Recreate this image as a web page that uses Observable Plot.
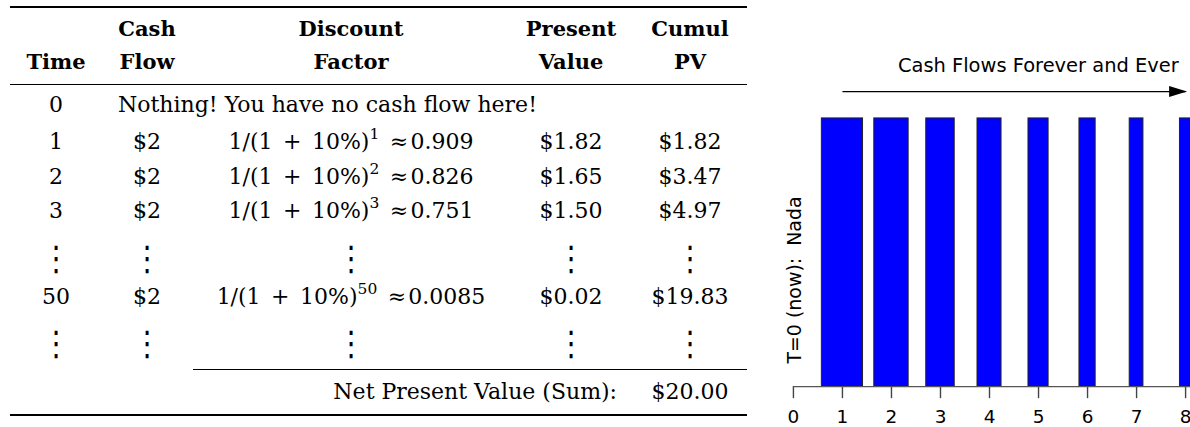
<!DOCTYPE html>
<html>
<head>
<meta charset="utf-8">
<script src="https://cdn.jsdelivr.net/npm/d3@7"></script>
<script src="https://cdn.jsdelivr.net/npm/@observablehq/plot@0.6"></script>
<style>
  html, body { margin: 0; padding: 0; background: #fff; }
  body { width: 1190px; height: 427px; overflow: hidden; position: relative; }
  #table { position: absolute; left: 0; top: 0; width: 760px; height: 427px;
           font-family: "DejaVu Serif", serif; font-size: 22px; color: #000; }
  .row { position: absolute; left: 10px; width: 738px; height: 24px; line-height: 24px;
         display: flex; white-space: nowrap; }
  .c { flex: none; text-align: center; box-sizing: border-box; }
  .hd { font-weight: bold; font-size: 21px; }
  .df { word-spacing: 3.5px; }
  .rule { position: absolute; background: #000; }
  .sup { font-size: 15.5px; position: relative; top: -10.5px; line-height: 0; }
  .vd { display: inline-block; font-family: "DejaVu Sans", sans-serif; font-size: 28px; line-height: 24px;
        transform: scaleY(1.22); }
  #chart { position: absolute; left: 760px; top: 0; }
</style>
</head>
<body>
<div id="table"></div>
<div id="chart"></div>
<script>
// ---------- table data ----------
const headerLine1 = ["", "Cash", "Discount", "Present", "Cumul"];
const headerLine2 = ["Time", "Flow", "Factor", "Value", "PV"];
const firstTime = "0";
const firstNote = "Nothing! You have no cash flow here!";
const rowTimes = ["1", "2", "3", "50"];
const rowCashFlows = ["$2", "$2", "$2", "$2"];
const rowExponents = ["1", "2", "3", "50"];
const rowFactors = ["0.909", "0.826", "0.751", "0.0085"];
const rowPresentValues = ["$1.82", "$1.65", "$1.50", "$0.02"];
const rowCumulPVs = ["$1.82", "$3.47", "$4.97", "$19.83"];
const netLabel = "Net Present Value (Sum):";
const netValue = "$20.00";

// ---------- chart data ----------
const barTimes = [1, 2, 3, 4, 5, 6, 7, 8];
const barCashFlows = [2, 2, 2, 2, 2, 2, 2, 2];
const barWidths = [0.84, 0.70, 0.58, 0.49, 0.41, 0.33, 0.28, 0.23];
const xTicks = [0, 1, 2, 3, 4, 5, 6, 7, 8];
const chartTitle = "Cash Flows Forever and Ever";
const sideLabel = "T=0 (now):  Nada";

// ---------- table layout ----------
const colW = [92, 90, 318, 122, 116];
const table = document.getElementById("table");

function rule(top, left, width, h) {
  const d = document.createElement("div");
  d.className = "rule";
  Object.assign(d.style, {top: top + "px", left: left + "px", width: width + "px", height: h + "px"});
  table.appendChild(d);
}
function row(top, cells) {
  const r = document.createElement("div");
  r.className = "row";
  r.style.top = top + "px";
  for (const cell of cells) {
    const c = document.createElement("div");
    c.className = "c" + (cell.cls ? " " + cell.cls : "");
    c.style.width = cell.w + "px";
    if (cell.align) c.style.textAlign = cell.align;
    if (cell.pl) c.style.paddingLeft = cell.pl + "px";
    if (cell.pr) c.style.paddingRight = cell.pr + "px";
    c.innerHTML = cell.html;
    r.appendChild(c);
  }
  table.appendChild(r);
}
const vdots = '<span class="vd">⋮</span>';

rule(6, 10, 737, 2.4);
row(17, headerLine1.map((t, i) => ({w: colW[i], html: t, cls: "hd"})));
row(50.4, headerLine2.map((t, i) => ({w: colW[i], html: t, cls: "hd"})));
rule(83.6, 10, 737, 1.4);
row(93.4, [{w: colW[0], html: firstTime},
           {w: colW[1] + colW[2] + colW[3] + colW[4], html: firstNote, align: "left", pl: 16}]);
const bodyTops = [130.4, 165.4, 199.4, 285.4];
rowTimes.forEach((t, i) => {
  row(bodyTops[i], [
    {w: colW[0], html: t},
    {w: colW[1], html: rowCashFlows[i]},
    {w: colW[2], cls: "df", html: `1/(1 + 10%)<span class="sup">${rowExponents[i]}</span> ≈&#8202;${rowFactors[i]}`},
    {w: colW[3], html: rowPresentValues[i]},
    {w: colW[4], html: rowCumulPVs[i]}
  ]);
});
// vertical dots rows
const vdTops = [246.5, 331.5];
row(vdTops[0], colW.map(w => ({w, html: vdots})));
row(vdTops[1], colW.map(w => ({w, html: vdots})));
rule(369, 193, 554, 1);
row(380.4, [{w: colW[0] + colW[1] + colW[2] + colW[3], html: netLabel, align: "right", pr: 15},
            {w: colW[4], html: netValue}]);
rule(413.6, 10, 737, 2.4);

// ---------- chart ----------
const bars = barTimes.map((t, i) => ({t, v: barCashFlows[i], w: barWidths[i]}));
const arrowHead = {
  draw(ctx) { ctx.moveTo(0, 0); ctx.lineTo(-18, -5.5); ctx.lineTo(-18, 5.5); ctx.closePath(); }
};
const chart = Plot.plot({
  width: 431, height: 427,
  marginLeft: 33, marginRight: 0, marginTop: 51, marginBottom: 40,
  x: {domain: [0, 8.1]},
  y: {domain: [0, 2.5], axis: null},
  style: {fontFamily: "DejaVu Sans", fontSize: "18.5px", color: "#000", background: "transparent", overflow: "hidden"},
  marks: [
    Plot.rectY(bars, {x1: d => d.t - d.w / 2, x2: d => d.t + d.w / 2, y1: 0, y2: "v",
                      fill: "#0000ff", stroke: "#222", strokeWidth: 1}),
    Plot.ruleX(xTicks, {x: d => d, y1: 0, y2: -0.09, stroke: "#444", strokeWidth: 1.4}),
    Plot.ruleY([0], {stroke: "#555", strokeWidth: 1.3}),
    Plot.axisX({ticks: xTicks, tickSize: 0, tickPadding: 23, fill: "#000",
                fontSize: 18.5, tickFormat: d => String(d)}),
    Plot.text([sideLabel], {x: 0, y: 0.795, text: d => d, rotate: -90, dx: 2,
                            fontSize: 19, fill: "#000", textAnchor: "middle"}),
    Plot.link([0], {x1: 1, x2: 8.0, y1: 2.2, y2: 2.2, stroke: "#000", strokeWidth: 1.4}),
    Plot.dot([0], {x: 8.03, y: 2.2, symbol: arrowHead, fill: "#000", stroke: "none"}),
    Plot.text([chartTitle], {x: 7.86, y: 2.39, text: d => d, textAnchor: "end",
                             fontSize: 19.5, fill: "#000"})
  ]
});
document.getElementById("chart").appendChild(chart);
</script>
</body>
</html>
